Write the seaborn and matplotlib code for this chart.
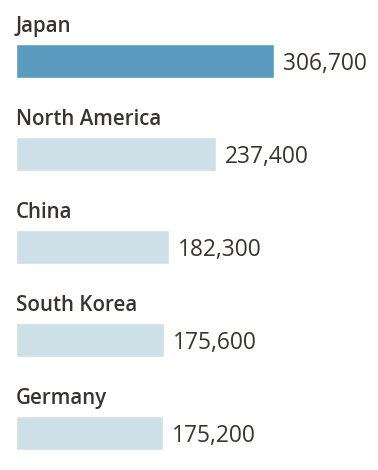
import matplotlib
matplotlib.use("Agg")
import matplotlib.pyplot as plt
import seaborn as sns
import pandas as pd

regions = ["Japan", "North America", "China", "South Korea", "Germany"]
values = [306700, 237400, 182300, 175600, 175200]
value_labels = ["306,700", "237,400", "182,300", "175,600", "175,200"]
highlight = "Japan"

sns.set_theme(style="white")
plt.rcParams["font.family"] = ["Open Sans", "DejaVu Sans"]

df = pd.DataFrame({"region": regions, "value": values})
dark = "#5b9bbf"
light = "#cde0e8"
palette = {r: (dark if r == highlight else light) for r in regions}
text_color = "#3b3331"

W, H = 378, 470
fig = plt.figure(figsize=(W / 100, H / 100), dpi=100)
left_px, right_px = 16, 274
ax = fig.add_axes([left_px / W, 0, (right_px - left_px) / W, 1])

sns.barplot(data=df, x="value", y="region", hue="region", palette=palette,
            order=regions, width=34 / 93, dodge=False, legend=False, ax=ax,
            saturation=1)

ax.set_xlim(0, values[0])
pitch = 93
top_c, bot_c = 61, 433
ax.set_ylim(4 + (H - bot_c) / pitch, -top_c / pitch)
ax.axis("off")

for i, (r, v, lab) in enumerate(zip(regions, values, value_labels)):
    ax.text(0, i - 0.31, r, ha="left", va="baseline", fontsize=14.8,
            fontweight="semibold", color=text_color, clip_on=False)
    ax.text(v + 9 * values[0] / (right_px - left_px), i + 0.1, lab,
            ha="left", va="baseline", fontsize=16.4, color=text_color,
            clip_on=False)

fig.savefig("out.png", dpi=100)
